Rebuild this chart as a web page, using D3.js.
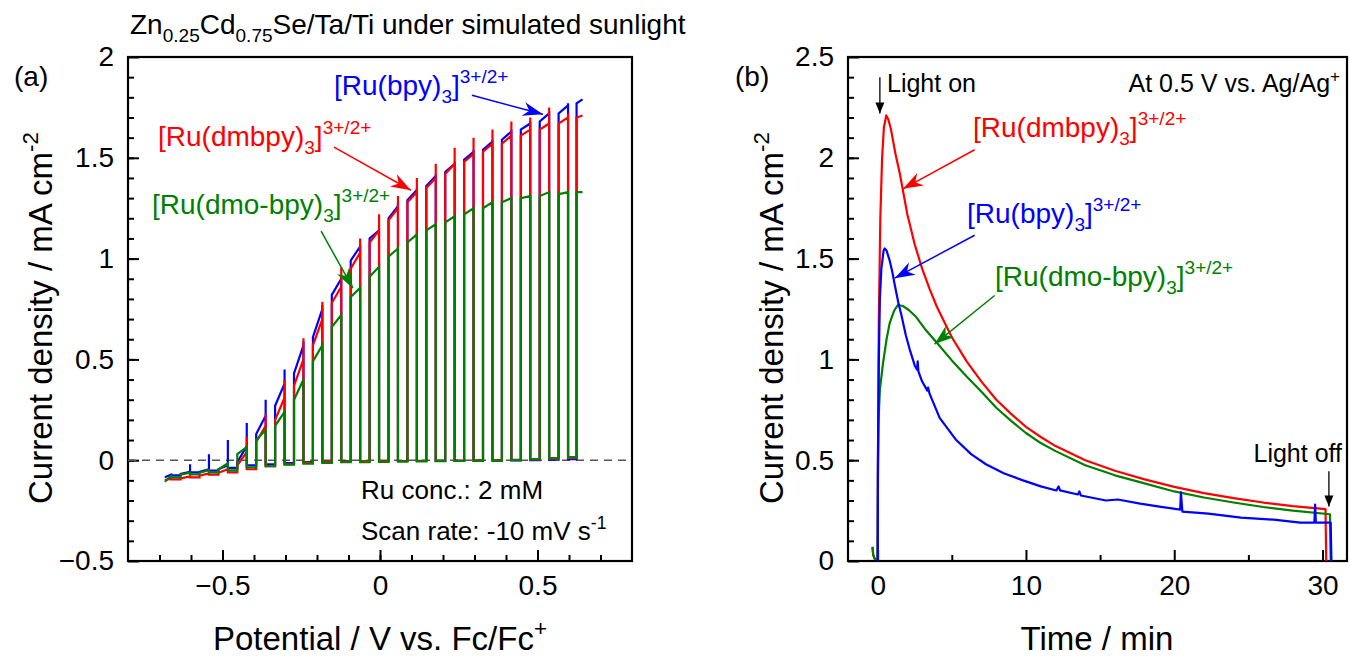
<!DOCTYPE html>
<html>
<head>
<meta charset="utf-8">
<script src="https://cdn.jsdelivr.net/npm/d3@7"></script>
<style>
  body { margin: 0; background: #fff; }
  svg text { font-family: "Liberation Sans", Arial, sans-serif; }
</style>
</head>
<body>
<script>
// ---- panel (a): chopped-light scan, one entry per light-on segment ----
const chopOffV = [-0.683, -0.633, -0.573, -0.513, -0.453, -0.393, -0.333, -0.273, -0.213, -0.153, -0.093, -0.033,
                  0.027, 0.087, 0.147, 0.207, 0.267, 0.327, 0.387, 0.447, 0.507, 0.567, 0.624];
const chopOnV  = [-0.663, -0.603, -0.543, -0.483, -0.423, -0.363, -0.303, -0.243, -0.183, -0.123, -0.063, -0.003,
                  0.057, 0.117, 0.177, 0.237, 0.297, 0.357, 0.417, 0.477, 0.537, 0.597, 0.643];

const bpyTopL  = [-0.085, -0.068, -0.058, -0.045, -0.01, 0.13, 0.27, 0.43, 0.61, 0.82, 0.99, 1.10, 1.20, 1.29, 1.36, 1.43, 1.49, 1.54, 1.59, 1.64, 1.68, 1.72, 1.77];
const bpyTopR  = [-0.072, -0.058, -0.045, -0.025, 0.07, 0.22, 0.38, 0.57, 0.75, 0.90, 1.06, 1.14, 1.26, 1.34, 1.41, 1.47, 1.53, 1.58, 1.63, 1.67, 1.72, 1.76, 1.79];
const bpySpike = [-0.072, -0.02, 0.03, 0.10, 0.185, 0.30, 0.45, 0.59, 0.77, 0.90, 1.07, 1.15, 1.28, 1.35, 1.42, 1.48, 1.54, 1.59, 1.64, 1.68, 1.73, 1.77, 1.79];
const bpyDark  = [-0.075, -0.06, -0.052, -0.038, -0.025, -0.02, -0.015, -0.01, -0.008, -0.005, -0.005, -0.005, -0.004, -0.004, -0.003, -0.003, -0.002, -0.002, -0.001, 0, 0.003, 0.005];

const dmbpyTopL  = [-0.10, -0.09, -0.077, -0.062, -0.025, 0.09, 0.20, 0.37, 0.57, 0.78, 0.95, 1.08, 1.19, 1.28, 1.35, 1.42, 1.48, 1.53, 1.57, 1.61, 1.64, 1.67, 1.70];
const dmbpyTopR  = [-0.09, -0.08, -0.066, -0.045, 0.04, 0.17, 0.31, 0.50, 0.70, 0.86, 1.03, 1.14, 1.25, 1.33, 1.40, 1.47, 1.52, 1.57, 1.61, 1.64, 1.67, 1.70, 1.71];
const dmbpySpike = [-0.09, -0.08, -0.066, -0.045, 0.116, 0.23, 0.40, 0.605, 0.786, 0.957, 1.10, 1.22, 1.31, 1.40, 1.47, 1.55, 1.60, 1.64, 1.68, 1.70, 1.75, 1.72, 1.71];
const dmbpyDark  = [-0.095, -0.085, -0.072, -0.06, -0.045, -0.03, -0.02, -0.012, -0.008, -0.006, -0.005, -0.004, -0.004, -0.003, -0.003, -0.002, -0.001, 0, 0.002, 0.004, 0.008, 0.012];

const dmoTopL = [-0.107, -0.072, -0.062, -0.045, 0.03, 0.10, 0.17, 0.30, 0.49, 0.66, 0.81, 0.91, 1.01, 1.08, 1.14, 1.18, 1.22, 1.25, 1.28, 1.30, 1.31, 1.32, 1.33];
const dmoTopR = [-0.078, -0.062, -0.05, -0.015, 0.065, 0.15, 0.24, 0.40, 0.57, 0.72, 0.855, 0.96, 1.05, 1.12, 1.17, 1.21, 1.25, 1.28, 1.30, 1.31, 1.33, 1.33, 1.33];
const dmoDark = [-0.085, -0.07, -0.06, -0.05, -0.035, -0.03, -0.022, -0.017, -0.013, -0.01, -0.01, -0.008, -0.007, -0.006, -0.005, -0.004, -0.003, -0.002, 0, 0.005, 0.01, 0.015];

// ---- panel (b): current transients [min, mA cm-2] ----
const dmbpyTrace = [[-0.35,0.07],[-0.3,0.03],[-0.2,0.01],[0,0.01],[0.02,0.5],[0.08,1.2],[0.18,1.7],[0.3,2.0],[0.42,2.15],[0.58,2.21],
  [0.72,2.19],[0.9,2.14],[1.2,2.02],[1.5,1.92],[2,1.72],[2.5,1.57],[3,1.45],[3.5,1.35],[4,1.26],[5,1.11],[6,0.99],[7,0.89],
  [8,0.80],[9,0.73],[10,0.665],[11,0.615],[12,0.57],[14,0.50],[16,0.448],[18,0.405],[20,0.368],[22,0.337],[24,0.312],
  [26,0.29],[28,0.272],[30.2,0.257],[30.25,0]];
const dmoTrace = [[-0.35,0.07],[-0.3,0.03],[-0.2,0.01],[0,0.01],[0.02,0.4],[0.05,0.68],[0.15,0.85],[0.36,0.98],[0.6,1.1],
  [0.81,1.18],[1.1,1.24],[1.37,1.27],[1.7,1.265],[2.1,1.245],[2.6,1.21],[3.2,1.15],[3.95,1.086],[5,0.995],[6,0.915],[7,0.84],
  [8,0.76],[9,0.695],[10,0.635],[11,0.585],[12,0.545],[14,0.475],[16,0.425],[18,0.385],[20,0.345],[22,0.315],[24,0.29],
  [26,0.268],[28,0.25],[30.5,0.232],[30.55,0]];
const bpyTrace = [[0,0],[0.02,0.5],[0.08,1.0],[0.15,1.3],[0.25,1.45],[0.4,1.54],[0.47,1.55],[0.6,1.54],[0.81,1.49],[1.0,1.43],
  [1.15,1.37],[1.4,1.28],[1.6,1.22],[1.9,1.12],[2.16,1.05],[2.5,0.97],[2.65,0.95],[2.7,0.99],[2.75,0.94],[3.0,0.89],
  [3.35,0.845],[3.4,0.86],[3.5,0.83],[4.18,0.71],[5.3,0.60],[6.3,0.53],[7.3,0.48],[8.5,0.435],[9.8,0.40],[11,0.37],
  [12.05,0.35],[12.2,0.37],[12.3,0.35],[13.5,0.33],[13.6,0.345],[13.7,0.325],[15.4,0.30],[16.2,0.305],[17.7,0.285],
  [19,0.27],[20.4,0.255],[20.45,0.34],[20.55,0.245],[22.3,0.235],[24.5,0.215],[26.7,0.205],[28.5,0.19],[29.45,0.19],
  [29.5,0.28],[29.55,0.19],[30.55,0.19],[30.6,0]];

const yTicksA = [-0.5, 0, 0.5, 1, 1.5, 2];
const xTicksA = [-0.5, 0, 0.5];
const yTicksB = [0, 0.5, 1, 1.5, 2, 2.5];
const xTicksB = [0, 10, 20, 30];

const RED = "#ff0000", BLUE = "#0000ff", GREEN = "#008000";

const svg = d3.select("body").append("svg")
  .attr("width", 1350).attr("height", 659)
  .style("background", "#fff");

const xA = d3.scaleLinear().domain([-0.8, 0.8]).range([128, 632]);
const yA = d3.scaleLinear().domain([-0.5, 2]).range([561, 57]);
const xB = d3.scaleLinear().domain([-2, 31.65]).range([848, 1347]);
const yB = d3.scaleLinear().domain([0, 2.5]).range([561, 57]);

const defs = svg.append("defs");
function arrowMarker(id, color, big) {
  defs.append("marker").attr("id", id)
    .attr("markerUnits", "userSpaceOnUse")
    .attr("viewBox", "-22 -10 24 20")
    .attr("refX", 0).attr("refY", 0)
    .attr("markerWidth", 24).attr("markerHeight", 20)
    .attr("orient", "auto")
    .append("path")
    .attr("d", big ? "M0,0 L-20,-7 L-14,0 L-20,7 Z" : "M0,0 L-11,-4.5 L-11,4.5 Z")
    .attr("fill", color);
}
arrowMarker("ar-red", RED, true);
arrowMarker("ar-blue", BLUE, true);
arrowMarker("ar-green", GREEN, true);
arrowMarker("ar-black", "#000", false);

[["clipA", xA, yA], ["clipB", xB, yB]].forEach(([id, x, y]) => {
  defs.append("clipPath").attr("id", id).append("rect")
    .attr("x", x.range()[0]).attr("y", y.range()[1])
    .attr("width", x.range()[1] - x.range()[0])
    .attr("height", y.range()[0] - y.range()[1]);
});

// text with sub/superscripts: parts are strings or [string, "sub"|"sup"]
function rich(sel, x, y, parts, size, color, anchor) {
  const t = sel.append("text").attr("x", x).attr("y", y)
    .attr("font-size", size).attr("fill", color || "#000")
    .attr("text-anchor", anchor || "start");
  let cur = 0;
  parts.forEach(p => {
    const [s, mode] = typeof p === "string" ? [p, null] : p;
    let off = 0, fs = size;
    if (mode === "sub") { off = 0.27 * size; fs = size * 0.68; }
    if (mode === "sup") { off = -0.42 * size; fs = size * 0.68; }
    t.append("tspan").attr("dy", off - cur).attr("font-size", fs).text(s);
    cur = off;
  });
  return t;
}

function drawAxes(x, y, xMaj, xMin, yMaj, yMin) {
  const g = svg.append("g");
  const fmt = d3.format("~g");
  const [x0, x1] = x.range(), [y1, y0] = y.range();
  g.append("g").attr("transform", `translate(0,${y1})`)
    .call(d3.axisBottom(x).tickValues(xMin).tickSize(-6).tickFormat(""));
  g.append("g").attr("transform", `translate(0,${y1})`)
    .call(d3.axisBottom(x).tickValues(xMaj).tickSize(-11).tickPadding(14).tickFormat(fmt));
  g.append("g").attr("transform", `translate(${x0},0)`)
    .call(d3.axisLeft(y).tickValues(yMin).tickSize(-6).tickFormat(""));
  g.append("g").attr("transform", `translate(${x0},0)`)
    .call(d3.axisLeft(y).tickValues(yMaj).tickSize(-11).tickPadding(14).tickFormat(fmt));
  g.selectAll(".domain").remove();
  g.selectAll(".tick line").attr("stroke", "#000").attr("stroke-width", 2);
  g.selectAll(".tick text").attr("font-size", 28).attr("fill", "#000")
    .attr("font-family", "Liberation Sans, Arial, sans-serif");
  g.append("rect").attr("x", x0).attr("y", y0).attr("width", x1 - x0).attr("height", y1 - y0)
    .attr("fill", "none").attr("stroke", "#000").attr("stroke-width", 2.2);
}

function rangeStep(a, b, s) { return d3.range(Math.round((b - a) / s) + 1).map(i => +(a + i * s).toFixed(6)); }

// ---------------- panel (a) ----------------
drawAxes(xA, yA, xTicksA, rangeStep(-0.7, 0.7, 0.1), yTicksA, rangeStep(-0.4, 1.9, 0.1));

svg.append("line")
  .attr("x1", xA(-0.8)).attr("x2", xA(0.8)).attr("y1", yA(0)).attr("y2", yA(0))
  .attr("stroke", "#555").attr("stroke-width", 1.6).attr("stroke-dasharray", "8,6");

function chopPoints(topL, topR, spike, dark) {
  const pts = [];
  const n = chopOnV.length;
  for (let i = 0; i < n; i++) {
    if (i > 0) pts.push([chopOffV[i], dark[i - 1]]);
    pts.push([chopOffV[i], topL[i]]);
    pts.push([chopOnV[i], topR[i]]);
    if (i < n - 1) {
      pts.push([chopOnV[i], spike[i]]);
      pts.push([chopOnV[i], dark[i]]);
    }
  }
  return pts;
}

const lineA = d3.line().x(d => xA(d[0])).y(d => yA(d[1]));
const gA = svg.append("g").attr("clip-path", "url(#clipA)");
[[chopPoints(bpyTopL, bpyTopR, bpySpike, bpyDark), BLUE],
 [chopPoints(dmbpyTopL, dmbpyTopR, dmbpySpike, dmbpyDark), RED],
 [chopPoints(dmoTopL, dmoTopR, dmoTopR, dmoDark), GREEN]].forEach(([pts, c]) => {
  gA.append("path").datum(pts).attr("d", lineA)
    .attr("fill", "none").attr("stroke", c).attr("stroke-width", 2.2)
    .attr("stroke-linejoin", "miter");
});

function arrow(x, y, from, to, color, marker, w) {
  svg.append("line")
    .attr("x1", x(from[0])).attr("y1", y(from[1]))
    .attr("x2", x(to[0])).attr("y2", y(to[1]))
    .attr("stroke", color).attr("stroke-width", w || 1.5)
    .attr("marker-end", `url(#${marker})`);
}

rich(svg, 334, 95, ["[Ru(bpy)", ["3", "sub"], "]", ["3+/2+", "sup"]], 28, BLUE);
arrow(xA, yA, [0.292, 1.81], [0.517, 1.716], BLUE, "ar-blue");
rich(svg, 158, 146, ["[Ru(dmbpy)", ["3", "sub"], "]", ["3+/2+", "sup"]], 28, RED);
arrow(xA, yA, [-0.146, 1.553], [0.098, 1.339], RED, "ar-red");
rich(svg, 152, 214, ["[Ru(dmo-bpy)", ["3", "sub"], "]", ["3+/2+", "sup"]], 28, GREEN);
arrow(xA, yA, [-0.187, 1.136], [-0.086, 0.853], GREEN, "ar-green");

rich(svg, 361, 499, ["Ru conc.: 2 mM"], 26);
rich(svg, 361, 540, ["Scan rate: -10 mV s", ["-1", "sup"]], 26);

rich(svg, 130, 34, ["Zn", ["0.25", "sub"], "Cd", ["0.75", "sub"], "Se/Ta/Ti under simulated sunlight"], 28);
rich(svg, 14, 86, ["(a)"], 28);
rich(svg, 380, 650, ["Potential / V vs. Fc/Fc", ["+", "sup"]], 33, "#000", "middle");
rich(svg.append("g").attr("transform", "translate(52,318) rotate(-90)"), 0, 0,
  ["Current density / mA cm", ["-2", "sup"]], 33, "#000", "middle");

// ---------------- panel (b) ----------------
drawAxes(xB, yB, xTicksB, [5, 15, 25], yTicksB, rangeStep(0.1, 2.4, 0.1));

const lineB = d3.line().x(d => xB(d[0])).y(d => yB(d[1]));
const gB = svg.append("g").attr("clip-path", "url(#clipB)");
[[dmbpyTrace, RED], [dmoTrace, GREEN], [bpyTrace, BLUE]].forEach(([pts, c]) => {
  gB.append("path").datum(pts).attr("d", lineB)
    .attr("fill", "none").attr("stroke", c).attr("stroke-width", 2.2)
    .attr("stroke-linejoin", "round");
});

rich(svg, 735, 86, ["(b)"], 28);
rich(svg, 887, 92, ["Light on"], 25);
arrow(xB, yB, [0.15, 2.40], [0.15, 2.22], "#000", "ar-black", 1.3);
rich(svg, 1340, 92, ["At 0.5 V vs. Ag/Ag", ["+", "sup"]], 25, "#000", "end");
rich(svg, 1342, 462, ["Light off"], 25, "#000", "end");
arrow(xB, yB, [30.43, 0.445], [30.43, 0.27], "#000", "ar-black", 1.3);

rich(svg, 973, 137, ["[Ru(dmbpy)", ["3", "sub"], "]", ["3+/2+", "sup"]], 28, RED);
arrow(xB, yB, [6.54, 2.04], [1.71, 1.846], RED, "ar-red");
rich(svg, 967, 223, ["[Ru(bpy)", ["3", "sub"], "]", ["3+/2+", "sup"]], 28, BLUE);
arrow(xB, yB, [6.54, 1.616], [1.15, 1.403], BLUE, "ar-blue");
rich(svg, 995, 286, ["[Ru(dmo-bpy)", ["3", "sub"], "]", ["3+/2+", "sup"]], 28, GREEN);
arrow(xB, yB, [7.89, 1.317], [3.84, 1.076], GREEN, "ar-green");

rich(svg, 1097, 650, ["Time / min"], 33, "#000", "middle");
rich(svg.append("g").attr("transform", "translate(783,318) rotate(-90)"), 0, 0,
  ["Current density / mA cm", ["-2", "sup"]], 33, "#000", "middle");
</script>
</body>
</html>
